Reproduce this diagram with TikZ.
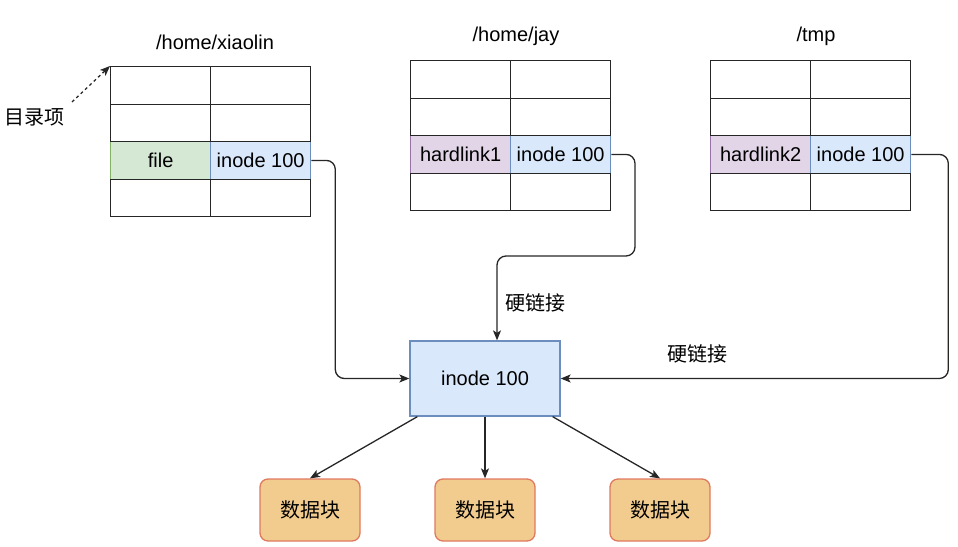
\documentclass[tikz,border=0pt]{standalone}
\usepackage{fontspec}
\setmainfont{Liberation Sans}
\newfontfamily\cjk{Noto Sans CJK SC}
\usetikzlibrary{positioning}
\usetikzlibrary{arrows.meta}
\definecolor{filefill}{HTML}{D5E8D4}
\definecolor{fileline}{HTML}{82B366}
\definecolor{inodefill}{HTML}{DAE8FC}
\definecolor{inodeline}{HTML}{6C8EBF}
\definecolor{linkfill}{HTML}{E1D5E7}
\definecolor{linkline}{HTML}{9673A6}
\definecolor{blockfill}{HTML}{F2CC8F}
\definecolor{blockline}{HTML}{E07A5F}
\tikzset{
    % arrows as drawn by the editor
    >={Stealth[length=10pt, width=8pt, inset=2.5pt]},
%
    % one cell of a directory table
    cell/.style={draw=black!85, line width=1.3pt, anchor=north west,
        inner sep=0, minimum width=100pt, minimum height=37.5pt},
    % the coloured cells of a directory entry
    name cell/.style={fill=filefill, draw=fileline},
    hardlink cell/.style={fill=linkfill, draw=linkline},
    inode cell/.style={fill=inodefill, draw=inodeline},
%
    % the inode itself and its data blocks
    inode box/.style={draw=inodeline, fill=inodefill, line width=1.3pt,
        minimum width=150pt, minimum height=75pt},
    data block/.style={draw=blockline, fill=blockfill, line width=1.3pt,
        rounded corners=8pt, minimum width=100pt, minimum height=62pt},
%
    % connectors
    arrow/.style={->, draw=black!85, line width=1.3pt},
    link/.style={arrow, rounded corners=9pt}}

\begin{document}
\begin{tikzpicture}[x=1pt, y=-1pt, font=\fontsize{20}{24}\selectfont]
\useasboundingbox (0,0) rectangle (958,546);

% directory /home/xiaolin
\node (xl title) at (215,42) {/home/xiaolin};
\node [cell, name cell] (xl name) at (110,141) {file};
\node [cell, inode cell] (xl inode) at (210,141) {inode 100};
\foreach \r in {0,1,3} {
    \node [cell] (xl-\r-a) at (110,{66+37.5*\r}) {};
    \node [cell] (xl-\r-b) at (210,{66+37.5*\r}) {};
}

% directory /home/jay
\node (jay title) at (516,36) {/home/jay};
\node [cell, hardlink cell] (jay name) at (410,135) {hardlink1};
\node [cell, inode cell] (jay inode) at (510,135) {inode 100};
\foreach \r in {0,1,3} {
    \node [cell] (jay-\r-a) at (410,{60+37.5*\r}) {};
    \node [cell] (jay-\r-b) at (510,{60+37.5*\r}) {};
}

% directory /tmp
\node (tmp title) at (816,36) {/tmp};
\node [cell, hardlink cell] (tmp name) at (710,135) {hardlink2};
\node [cell, inode cell] (tmp inode) at (810,135) {inode 100};
\foreach \r in {0,1,3} {
    \node [cell] (tmp-\r-a) at (710,{60+37.5*\r}) {};
    \node [cell] (tmp-\r-b) at (810,{60+37.5*\r}) {};
}

\node (entry) at (35,117) {\cjk 目录项};
\coordinate (entry tail) at (72,102);
\draw [arrow, dash pattern=on 3pt off 3pt] (entry tail) -- (xl-0-a.north west);

% the inode and its blocks
\node [inode box] (inode) at (485,378.5) {inode 100};
\node [data block] (block1) at (310,510) {\cjk 数据块};
\node [data block] (block2) at (485,510) {\cjk 数据块};
\node [data block] (block3) at (660,510) {\cjk 数据块};

\draw [arrow] ([xshift=8pt]inode.south west) -- (block1.north);
\draw [arrow] (inode.south) -- (block2.north);
\draw [arrow] ([xshift=-8pt]inode.south east) -- (block3.north);

% entries pointing at the inode
\draw [link] (xl inode.east) -- ++(24,0) |- (inode.west);

\coordinate (jay bend) at (635,256);
\draw [link] (jay inode.east) -| (jay bend) -| ([xshift=12pt]inode.north);
\node (jay label) at (535,303) {\cjk 硬链接};

\draw [link] (tmp inode.east) -- ++(37,0) |- (inode.east);
\node (tmp label) at (697,354) {\cjk 硬链接};

\end{tikzpicture}
\end{document}
